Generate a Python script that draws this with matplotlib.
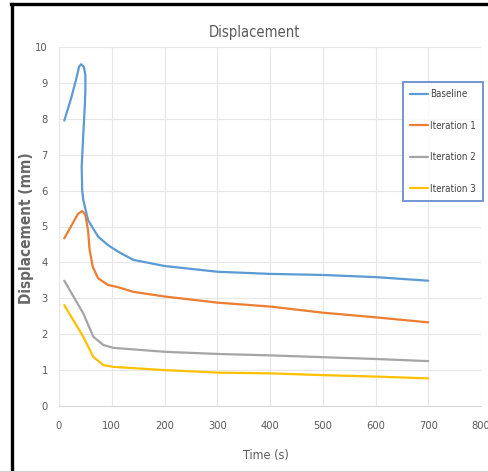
import matplotlib
matplotlib.use("Agg")
import matplotlib.pyplot as plt
from matplotlib.lines import Line2D

plt.rcParams['font.family'] = ['DejaVu Sans']
plt.rcParams['font.stretch'] = 'condensed'

# data (Excel smoothed lines)
base_t = [10, 23, 33, 38, 42, 47, 50, 50, 49, 46, 43, 44, 46, 55, 74, 93, 112, 141, 200, 300, 400, 500, 600, 700]
base_d = [7.95, 8.57, 9.13, 9.45, 9.52, 9.45, 9.22, 8.8, 8.38, 7.55, 6.67, 6.0, 5.74, 5.18, 4.72, 4.48, 4.30, 4.07, 3.9, 3.74, 3.68, 3.65, 3.59, 3.49]

it1_t = [10, 26, 36, 44, 50, 55, 58, 64, 74, 93, 112, 141, 200, 300, 400, 500, 600, 700]
it1_d = [4.67, 5.09, 5.35, 5.43, 5.32, 4.9, 4.35, 3.88, 3.56, 3.37, 3.31, 3.18, 3.05, 2.88, 2.77, 2.6, 2.47, 2.33]

it2_t = [10, 46, 65, 84, 103, 200, 300, 400, 500, 600, 700]
it2_d = [3.49, 2.58, 1.93, 1.70, 1.62, 1.51, 1.45, 1.41, 1.36, 1.31, 1.25]

it3_t = [10, 46, 65, 84, 103, 200, 300, 400, 500, 600, 700]
it3_d = [2.81, 1.93, 1.37, 1.14, 1.09, 1.0, 0.93, 0.91, 0.86, 0.82, 0.77]

names = ["Baseline", "Iteration 1", "Iteration 2", "Iteration 3"]
colors = ["#5B9BD5", "#ED7D31", "#A5A5A5", "#FFC000"]

fig = plt.figure(figsize=(4.89, 4.72), dpi=100)
ax = fig.add_axes([59 / 489, 66 / 472, 422 / 489, 359 / 472])

for t, d, name, c in zip([base_t, it1_t, it2_t, it3_t], [base_d, it1_d, it2_d, it3_d], names, colors):
    ax.plot(t, d, color=c, lw=1.6, label=name, solid_joinstyle="round", solid_capstyle="round")

ax.set_xlim(0, 800)
ax.set_ylim(0, 10)
ax.set_xticks(range(0, 801, 100))
ax.set_yticks(range(0, 11))
ax.grid(True, color="#E6E6E6", lw=0.8)
ax.set_axisbelow(True)
for s in ax.spines.values():
    s.set_visible(False)
ax.spines["bottom"].set_visible(True)
ax.spines["bottom"].set_color("#D9D9D9")
ax.tick_params(length=0, labelsize=8, colors="#595959")
ax.tick_params(axis="x", pad=11)
ax.tick_params(axis="y", pad=8)

ax.set_title("Displacement", fontsize=10.5, color="#595959", x=0.462, pad=7)
ax.set_xlabel("Time (s)", fontsize=9, color="#595959")
ax.xaxis.set_label_coords((266 - 59) / 422, -43 / 359)
ax.set_ylabel("Displacement (mm)", fontsize=11, color="#666666", fontweight="bold")
ax.yaxis.set_label_coords(-25 / 422, 0.496)

leg = ax.legend(loc="upper left", bbox_to_anchor=(0.814, 0.902), fontsize=7,
                frameon=True, fancybox=False, handlelength=1.9, handletextpad=0.15,
                labelspacing=2.2, borderpad=0.75, borderaxespad=0)
leg.get_frame().set_edgecolor("#4472C4")
leg.get_frame().set_linewidth(1.3)
for txt in leg.get_texts():
    txt.set_color("#404040")

# black frame around the chart (left and top), faint line at bottom
fig.add_artist(Line2D([12.5 / 489, 12.5 / 489], [0, 1 - 4 / 472], color="black", lw=2.4,
                      transform=fig.transFigure))
fig.add_artist(Line2D([11.5 / 489, 1], [1 - 4 / 472, 1 - 4 / 472], color="black", lw=2.4,
                      transform=fig.transFigure))
fig.add_artist(Line2D([0, 1], [1.5 / 472, 1.5 / 472], color="#D0D0D0", lw=0.8,
                      transform=fig.transFigure))

fig.savefig("out.png", dpi=100)
